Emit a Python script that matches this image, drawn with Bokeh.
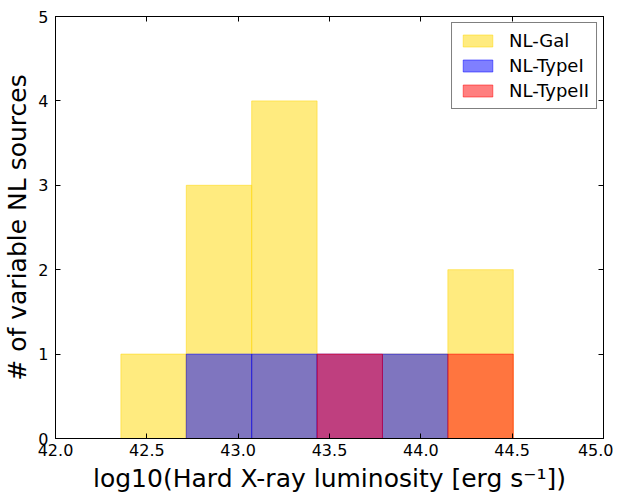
from bokeh.plotting import figure
from bokeh.models import (Range1d, FixedTicker, LinearAxis, NumeralTickFormatter,
                          ColumnDataSource, Legend, LegendItem, CustomJSTickFormatter)
from bokeh.embed import file_html
from bokeh.resources import INLINE

# ---- data ----
bin_edges = [42.0, 42.358, 42.716, 43.074, 43.432, 43.790, 44.148, 44.506]
nl_gal = [0, 1, 3, 4, 0, 1, 2]
nl_type1 = [0, 0, 1, 1, 1, 1, 0]
nl_type2 = [0, 0, 0, 0, 1, 0, 1]
series_names = ["NL-Gal", "NL-TypeI", "NL-TypeII"]
series_colors = ["#FFD700", "#0000FF", "#FF0000"]
x_ticks = [42.0, 42.5, 43.0, 43.5, 44.0, 44.5, 45.0]
y_ticks = [0, 1, 2, 3, 4, 5]

FONT = "DejaVu Sans"

p = figure(frame_width=548, frame_height=422, x_range=Range1d(42, 45), y_range=Range1d(0, 5),
           output_backend="svg", toolbar_location=None,
           min_border_left=49, min_border_right=10, min_border_top=16, min_border_bottom=40)
p.background_fill_color = "white"
p.border_fill_color = "white"
p.outline_line_color = "black"
p.outline_line_width = 1
p.xgrid.visible = False
p.ygrid.visible = False

left = bin_edges[:-1]
right = bin_edges[1:]
renderers = []
for name, counts, col in zip(series_names, [nl_gal, nl_type1, nl_type2], series_colors):
    src = ColumnDataSource(dict(left=left, right=right, top=counts, bottom=[0] * len(counts)))
    r = p.quad(left="left", right="right", top="top", bottom="bottom", source=src,
               fill_color=col, fill_alpha=0.5, line_color=col, line_alpha=0.5, line_width=1)
    renderers.append((name, r))

def style_axis(ax, labels=True):
    ax.major_tick_in = 5
    ax.major_tick_out = 0
    ax.minor_tick_line_color = None
    ax.axis_line_color = "black"
    ax.major_tick_line_color = "black"
    ax.axis_label_text_font = FONT
    ax.axis_label_text_font_style = "normal"
    ax.axis_label_text_font_size = "25px"
    ax.axis_label_text_color = "black"
    ax.major_label_text_font = FONT
    ax.major_label_text_color = "black"
    ax.major_label_text_font_size = "16px"
    if not labels:
        ax.formatter = CustomJSTickFormatter(code="return '';")
        ax.major_label_standoff = 0

xa = p.xaxis[0]
xa.ticker = FixedTicker(ticks=x_ticks)
xa.formatter = NumeralTickFormatter(format="0.0")
xa.axis_label = "log10(Hard X-ray luminosity [erg s\u207b\u00b9])"
style_axis(xa)
xa.major_label_standoff = 5
xa.axis_label_standoff = 5

ya = p.yaxis[0]
ya.ticker = FixedTicker(ticks=y_ticks)
ya.axis_label = "# of variable NL sources"
style_axis(ya)
ya.major_label_standoff = 7
ya.axis_label_standoff = 3

top_ax = LinearAxis(ticker=FixedTicker(ticks=x_ticks))
style_axis(top_ax, labels=False)
p.add_layout(top_ax, "above")
right_ax = LinearAxis(ticker=FixedTicker(ticks=y_ticks))
style_axis(right_ax, labels=False)
p.add_layout(right_ax, "right")

legend = Legend(items=[LegendItem(label=n, renderers=[r]) for n, r in renderers],
                location="top_right")
legend.border_line_color = "black"
legend.border_line_width = 1
legend.background_fill_alpha = 1
legend.label_text_font = FONT
legend.label_text_font_size = "18px"
legend.label_text_color = "black"
legend.glyph_width = 37
legend.glyph_height = 15
legend.label_height = 20
legend.spacing = 4
legend.padding = 7
legend.margin = 6
legend.label_standoff = 13
p.add_layout(legend, "center")

open("out.html", "w").write(file_html(p, INLINE))
